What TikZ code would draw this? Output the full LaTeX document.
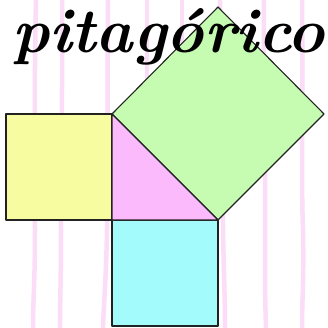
\documentclass[tikz,border=0pt]{standalone}
\usepackage{fontspec}
\usepackage{graphicx}
\definecolor{stripe}{HTML}{FBDDF8}
\definecolor{yel}{HTML}{F8FCA0}
\definecolor{pnk}{HTML}{FBBAFB}
\definecolor{grn}{HTML}{C6FBB2}
\definecolor{cya}{HTML}{A4FBFB}
\definecolor{edge}{HTML}{222222}
\tikzset{
  stripeline/.style={draw=stripe, line width=4.5pt, line cap=round},
  face/.style={draw=edge, line width=1.1pt, line join=round},
  title/.style={anchor=base west, inner sep=0pt, outer sep=0pt},
}
\newcommand{\titletext}{\resizebox{313pt}{44pt}{\bfseries\itshape pitag\'orico}}
\begin{document}
\begin{tikzpicture}[x=1pt,y=-1pt]
\useasboundingbox (0,0) rectangle (328,327);
\fill[white] (0,0) rectangle (328,327);
% wavy background stripes
\draw[stripeline] (36,0) .. controls (34,90) and (35,180) .. (35,230) .. controls (35,280) and (33,300) .. (33,327);
\draw[stripeline] (62,0) .. controls (63,100) and (60,180) .. (61,230) .. controls (61,280) and (60,300) .. (60,327);
\draw[stripeline] (108,0) .. controls (107,100) and (108,180) .. (107,230) .. controls (106,280) and (104,300) .. (103,327);
\draw[stripeline] (147,0) -- (147,120);
\draw[stripeline] (182,0) -- (182,120);
\draw[stripeline] (220,0) .. controls (221,100) and (223,180) .. (223,230) .. controls (224,280) and (225,300) .. (225,327);
\draw[stripeline] (264,0) .. controls (263,100) and (266,180) .. (265,230) .. controls (265,280) and (265,300) .. (266,327);
\draw[stripeline] (302,0) .. controls (303,100) and (301,180) .. (303,230) .. controls (304,280) and (302,300) .. (302,327);
% squares and triangle
\coordinate (A) at (112,114);
\coordinate (C) at (112,220);
\coordinate (B) at (218,220);
\coordinate (T) at (218,7);
\coordinate (R) at (324,114);
\coordinate (Y1) at (6,114);
\coordinate (Y2) at (6,220);
\coordinate (Q1) at (112,326);
\coordinate (Q2) at (218,326);
\path[face, fill=grn] (A) -- (T) -- (R) -- (B) -- cycle;
\path[face, fill=yel] (Y1) -- (A) -- (C) -- (Y2) -- cycle;
\path[face, fill=cya] (C) -- (B) -- (Q2) -- (Q1) -- cycle;
\path[face, fill=pnk] (A) -- (B) -- (C) -- cycle;
% title
\node[title, text=black] (t) at (12,52) {\titletext};
\end{tikzpicture}
\end{document}
